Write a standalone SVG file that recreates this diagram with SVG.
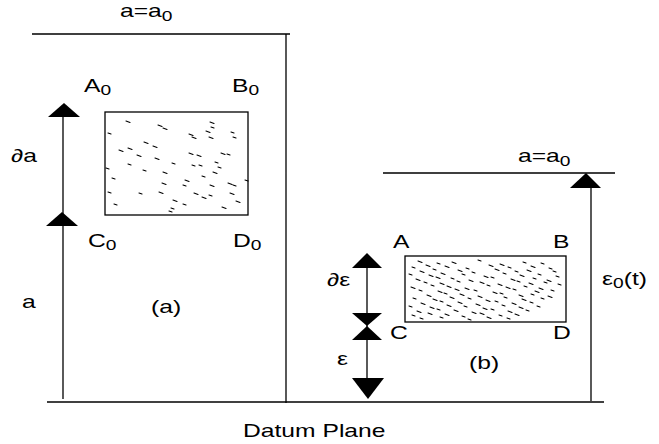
<svg xmlns="http://www.w3.org/2000/svg" width="659" height="444" viewBox="0 0 659 444">
<style>
.t{font-family:"Liberation Sans",Arial,sans-serif;font-size:18px;fill:#000}
.s{font-size:14px}
.ln{stroke:#000;stroke-width:1.3;fill:none}
.ah{fill:#000;stroke:none}
.box{fill:#fff;stroke:#000;stroke-width:1.3}
.tex{stroke:#000;stroke-width:1.1;fill:none;stroke-linecap:round}
</style>
<rect width="659" height="444" fill="#fff"/>
<g id="frame">
<path class="ln" d="M32 34H290M286 34V403M383 173H615"/>
<path class="ln" d="M47 402H604" stroke-width="1.8"/>
</g>
<g id="connectors">
<path class="ln" d="M63 108V399"/>
<polygon class="ah" points="64,103 80,117 48,117"/>
<polygon class="ah" points="62,212 78,226 46,226"/>
<path class="ln" d="M367 260V392"/>
<polygon class="ah" points="367,253 382,268 352,268"/>
<polygon class="ah" points="352,313 382,313 367,326"/>
<polygon class="ah" points="367,326 382,340 352,340"/>
<polygon class="ah" points="352,378 384,378 368,399"/>
<path class="ln" d="M591 180V401"/>
<polygon class="ah" points="586,173 601,188 570,188"/>
</g>
<g id="specimen-a">
<rect class="box" x="105" y="112" width="143" height="103"/>
<path class="tex" d="M126 121l4 1.5M158 125l4 1.5M163 128l4 1.5M108 133l3 1M189 134l4 1.5M192 137l4 1.5M210 122l4 1.5M211 127l3 1M206 131l4 1.5M209 137l4 1.5M231 132l3 1M233 137l3 1M144 142l4 1.5M153 146l4 1.5M119 150l4 1.5M128 148l4 1.5M137 155l4 1.5M155 158l4 1.5M189 153l4 1.5M197 155l4 1.5M221 153l4 1.5M227 154l3 1M128 164l3 1M172 163l3 1M192 165l3 1M199 165l3 1M215 162l3 1M218 167l3 1M213 172l4 1.5M106 168l3 1M143 170l3 1M163 172l4 1.5M112 178l3 1M185 180l4 1.5M202 176l3 1M162 183l4 1.5M183 185l3 1M210 185l4 1.5M228 183l4 1.5M233 185l3 1M245 180l3 1M108 192l3 1M139 193l3 1M159 192l4 1.5M194 193l4 1.5M202 197l4 1.5M209 195l3 1M230 193l4 1.5M114 204l3 1M173 200l4 1.5M183 204l3 1M171 208l3 1M169 211l3 1M222 207l4 1.5M236 201l4 1.5"/>
</g>
<g id="specimen-b">
<rect class="box" x="405" y="256" width="161" height="66"/>
<path class="tex" d="M418 261l4 1.5M437 263l3 1M452 262l4 1.5M478 260l3 1M500 264l4 1.5M523 262l3 1M541 263l3 1M412 267l3 1M426 265l4 1.5M445 266l4 1.5M466 268l3 1M489 265l4 1.5M508 267l3 1M531 266l4 1.5M549 268l3 1M420 271l4 1.5M433 269l3 1M458 270l4 1.5M472 272l3 1M495 269l4 1.5M515 271l3 1M527 270l4 1.5M553 271l3 1M409 274l3 1M429 275l4 1.5M441 273l4 1.5M462 274l3 1M484 276l4 1.5M503 273l3 1M520 275l4 1.5M538 274l3 1M556 276l3 1M416 279l4 1.5M436 277l4 1.5M451 278l3 1M469 280l4 1.5M491 277l3 1M511 279l4 1.5M533 278l3 1M547 280l4 1.5M424 282l3 1M440 283l4 1.5M457 281l3 1M480 282l4 1.5M498 284l4 1.5M517 281l3 1M529 283l4 1.5M544 282l3 1M558 284l3 1M411 287l4 1.5M431 285l3 1M447 286l4 1.5M465 288l4 1.5M487 285l3 1M506 287l4 1.5M524 286l3 1M539 288l4 1.5M419 290l3 1M438 291l4 1.5M455 289l4 1.5M474 290l3 1M493 292l4 1.5M513 289l3 1M535 291l4 1.5M551 290l3 1M427 295l4 1.5M444 293l3 1M460 294l4 1.5M478 296l4 1.5M500 293l3 1M519 295l4 1.5M531 294l3 1M548 296l4 1.5M413 298l3 1M433 299l4 1.5M450 297l4 1.5M468 298l3 1M486 300l4 1.5M504 297l3 1M522 299l4 1.5M541 298l3 1M421 303l4 1.5M440 301l3 1M458 302l4 1.5M476 304l4 1.5M495 301l3 1M512 303l4 1.5M530 302l3 1M409 306l3 1M430 307l4 1.5M447 305l4 1.5M464 306l3 1M483 308l4 1.5M502 305l3 1M519 307l4 1.5M537 306l3 1M417 311l4 1.5M437 309l3 1M454 310l4 1.5M472 312l4 1.5M491 309l3 1M508 311l4 1.5M526 310l3 1M412 315l3 1M428 313l4 1.5M445 314l4 1.5M462 316l3 1M480 313l4 1.5M499 315l3 1M515 314l4 1.5M420 318l3 1M440 317l3 1M468 319l3 1M487 317l4 1.5M507 318l3 1"/>
</g>
<g id="labels">
<text class="t" transform="translate(120,17) scale(1.37,1)">a=a<tspan class="s" dy="4">0</tspan></text>
<text class="t" transform="translate(84,92) scale(1.37,1)">A<tspan class="s" dy="3">0</tspan></text>
<text class="t" transform="translate(232,92) scale(1.37,1)">B<tspan class="s" dy="3">0</tspan></text>
<text class="t" transform="translate(11,162) scale(1.37,1)">∂a</text>
<text class="t" transform="translate(88,247) scale(1.37,1)">C<tspan class="s" dy="3">0</tspan></text>
<text class="t" transform="translate(233,247) scale(1.37,1)">D<tspan class="s" dy="3">0</tspan></text>
<text class="t" transform="translate(22,308) scale(1.37,1)">a</text>
<text class="t" transform="translate(151,313) scale(1.37,1)">(a)</text>
<text class="t" transform="translate(243,437) scale(1.37,1)">Datum Plane</text>
<text class="t" transform="translate(518,162) scale(1.37,1)">a=a<tspan class="s" dy="4">0</tspan></text>
<text class="t" transform="translate(393,248) scale(1.37,1)">A</text>
<text class="t" transform="translate(553,248) scale(1.37,1)">B</text>
<text class="t" transform="translate(390,339) scale(1.37,1)">C</text>
<text class="t" transform="translate(553,339) scale(1.37,1)">D</text>
<text class="t" transform="translate(327,286) scale(1.37,1)">∂ε</text>
<text class="t" transform="translate(337,365) scale(1.37,1)">ε</text>
<text class="t" transform="translate(469,369) scale(1.37,1)">(b)</text>
<text class="t" transform="translate(602,285) scale(1.37,1)">ε<tspan class="s" dy="3">0</tspan><tspan dy="-3">(t)</tspan></text>
</g>
</svg>
